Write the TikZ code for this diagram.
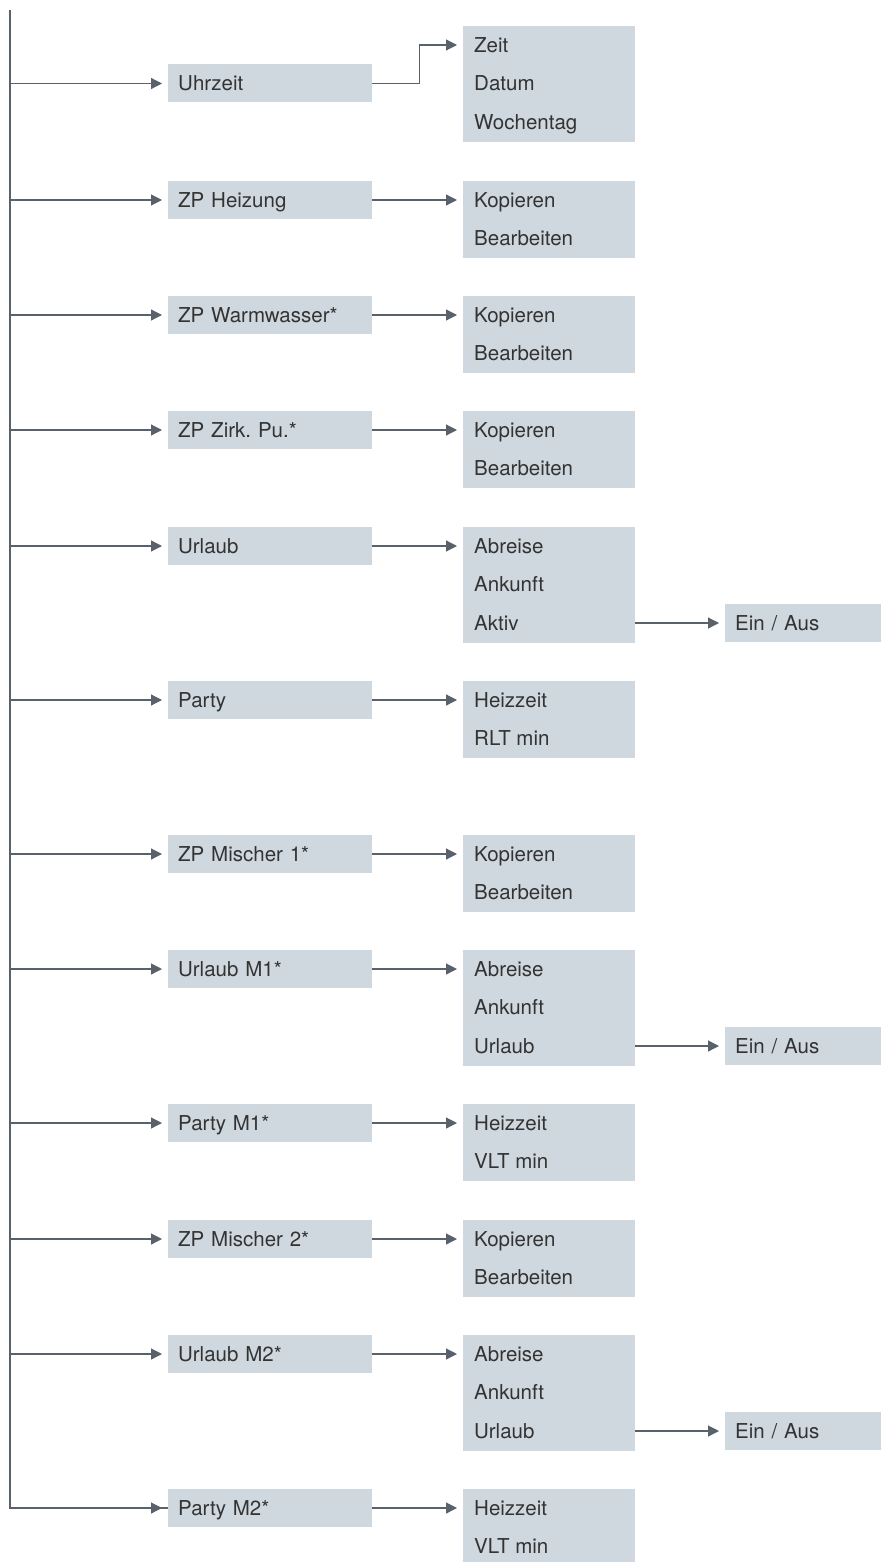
\documentclass[tikz,border=0pt]{standalone}
\usepackage{fontspec}
\setmainfont{TeX Gyre Heros}
\usetikzlibrary{arrows.meta}
\definecolor{boxfill}{HTML}{CFD8DF}
\definecolor{linegrey}{HTML}{59616A}
\definecolor{txtgrey}{HTML}{333333}
\frenchspacing

\begin{document}
\begin{tikzpicture}[x=1pt,y=-1pt,
  every node/.style={font=\fontsize{20.5}{21}\selectfont, text=txtgrey},
  menubox/.style={fill=boxfill, minimum width=204pt, minimum height=38pt,
    inner xsep=10pt, inner ysep=0pt, text width=184pt, align=left,
    text height=14.5pt, text depth=0pt, anchor=west},
  leafbox/.style={menubox, minimum width=156pt, text width=136pt},
  subbox/.style={fill=boxfill, minimum width=172pt, inner sep=0pt, anchor=north west},
  entry/.style={inner sep=0pt, text height=14.5pt, text depth=0pt, anchor=west},
  link/.style={draw=linegrey, line width=1.2pt,
    -{Triangle[length=11pt,width=11pt]}, shorten >=6pt},
  trunk/.style={draw=linegrey, line width=1.2pt}
]
\useasboundingbox (0,0) rectangle (881,1562);
\clip (0,0) rectangle (881,1562);

% trunk start
\coordinate (root) at (10,10);

% first-level menu entries
\node[menubox] (m1)  at (168,83.5) {Uhrzeit};
\node[menubox] (m2)  at (168,200)  {ZP Heizung};
\node[menubox] (m3)  at (168,315)  {ZP Warmwasser*};
\node[menubox] (m4)  at (168,430)  {ZP Zirk. Pu.*};
\node[menubox] (m5)  at (168,546)  {Urlaub};
\node[menubox] (m6)  at (168,700)  {Party};
\node[menubox] (m7)  at (168,854)  {ZP Mischer 1*};
\node[menubox] (m8)  at (168,969)  {Urlaub M1*};
\node[menubox] (m9)  at (168,1123) {Party M1*};
\node[menubox] (m10) at (168,1239) {ZP Mischer 2*};
\node[menubox] (m11) at (168,1354) {Urlaub M2*};
\node[menubox] (m12) at (168,1508) {Party M2*};

% second-level boxes: background plus one entry per line
% #1 name, #2 top, then the entries
\newcommand{\subtwo}[4]{%
  \node[subbox, minimum height=77pt] (#1) at (463,#2) {};
  \node[entry] (#1-1) at (474,#2+19) {#3};
  \node[entry] (#1-2) at (474,#2+57.5) {#4};
}
\newcommand{\subthree}[5]{%
  \node[subbox, minimum height=115.5pt] (#1) at (463,#2) {};
  \node[entry] (#1-1) at (474,#2+19) {#3};
  \node[entry] (#1-2) at (474,#2+57.5) {#4};
  \node[entry] (#1-3) at (474,#2+96) {#5};
}

\subthree{s1}{26}{Zeit}{Datum}{Wochentag}
\subtwo{s2}{181}{Kopieren}{Bearbeiten}
\subtwo{s3}{296}{Kopieren}{Bearbeiten}
\subtwo{s4}{411}{Kopieren}{Bearbeiten}
\subthree{s5}{527}{Abreise}{Ankunft}{Aktiv}
\subtwo{s6}{681}{Heizzeit}{RLT min}
\subtwo{s7}{835}{Kopieren}{Bearbeiten}
\subthree{s8}{950}{Abreise}{Ankunft}{Urlaub}
\subtwo{s9}{1104}{Heizzeit}{VLT min}
\subtwo{s10}{1220}{Kopieren}{Bearbeiten}
\subthree{s11}{1335}{Abreise}{Ankunft}{Urlaub}
\subtwo{s12}{1489}{Heizzeit}{VLT min}

% third-level entries
\node[leafbox] (e5)  at (725,623) {Ein / Aus};
\node[leafbox] (e8)  at (725,1046) {Ein / Aus};
\node[leafbox] (e11) at (725,1431) {Ein / Aus};

% trunk and branches
\draw[trunk] (root) |- (m12.west);
\draw[link] (root |- m12.west) -- (m12.west);
\foreach \i in {1,...,11} {
  \draw[link] (root |- m\i.west) -- (m\i.west);
}

% first to second level
\draw[link] (m1.east) -- ++(47,0) |- (s1.west |- s1-1.west);
\foreach \i in {2,...,12} {
  \draw[link] (m\i.east) -- (s\i.west |- s\i-1.west);
}

% second to third level
\foreach \i in {5,8,11} {
  \draw[link] (s\i.east |- s\i-3.west) -- (e\i.west);
}
\end{tikzpicture}
\end{document}
